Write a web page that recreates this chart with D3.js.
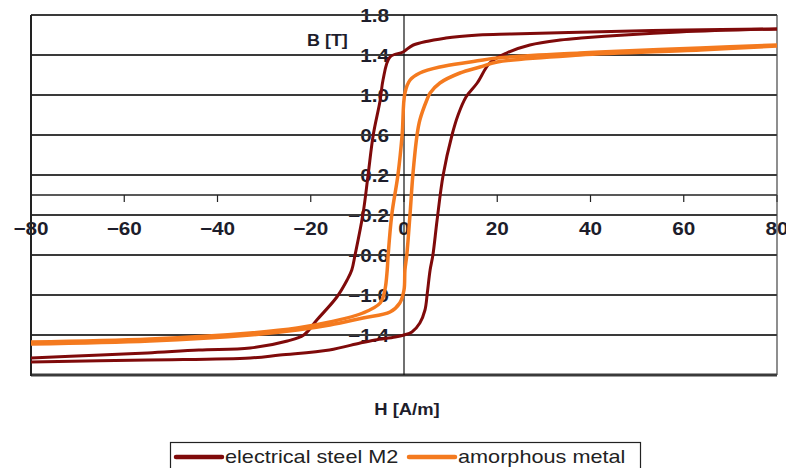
<!DOCTYPE html>
<html>
<head>
<meta charset="utf-8">
<script src="https://cdn.jsdelivr.net/npm/d3@7"></script>
<style>
    html, body { margin: 0; padding: 0; background: #fff; }
    svg { display: block; font-family: Arial, "Liberation Sans", sans-serif; }
</style>
</head>
<body>
<svg id="chart" width="786" height="468"></svg>
<script>
// --- data (H in A/m, B in T) ---
const steelDownH = [80, 60, 40, 23, 16, 9, 2, -0.2, -3, -4.5, -5.1, -6.6, -7.7, -8.8, -10.5, -11.2, -12.2, -14.4, -18.7, -21.5, -25, -33, -44, -55, -65, -80];
const steelDownB = [1.66, 1.65, 1.63, 1.61, 1.60, 1.57, 1.50, 1.43, 1.38, 1.15, 0.95, 0.60, 0.20, -0.19, -0.60, -0.75, -0.85, -1.02, -1.25, -1.40, -1.46, -1.53, -1.55, -1.58, -1.60, -1.63];
const steelUpH = [-80, -55, -33, -26.6, -16, -9.4, -6.2, -1.9, 0, 1.7, 3.4, 4.5, 5.0, 5.6, 6.2, 7.1, 8.4, 10.3, 11.6, 13.3, 15.7, 18.4, 22, 27, 33.5, 38, 59, 80];
const steelUpB = [-1.67, -1.65, -1.63, -1.60, -1.55, -1.48, -1.45, -1.42, -1.40, -1.37, -1.28, -1.15, -0.98, -0.75, -0.60, -0.25, 0.20, 0.60, 0.80, 0.98, 1.12, 1.32, 1.42, 1.50, 1.55, 1.57, 1.63, 1.66];

const amorphDownH = [80, 63.5, 42, 37.7, 20, 14.2, 7.7, 3.4, 1.3, 0.2, -0.4, -1.3, -2.6, -3.4, -3.6, -4.1, -5.1, -8.8, -15.9, -22.9, -33, -54.5, -80];
const amorphDownB = [1.50, 1.47, 1.43, 1.42, 1.37, 1.33, 1.28, 1.22, 1.15, 1.02, 0.60, 0.20, -0.19, -0.60, -0.75, -0.95, -1.08, -1.18, -1.27, -1.33, -1.38, -1.44, -1.47];
const amorphUpH = [-80, -54.5, -33, -22.9, -15.9, -8.8, -3, -0.9, 0, 0.2, 0.6, 1.3, 1.9, 2.8, 3.4, 4.9, 5.6, 7.7, 12, 16.3, 20, 37.7, 63.5, 80];
const amorphUpB = [-1.49, -1.46, -1.40, -1.35, -1.30, -1.23, -1.17, -1.08, -0.95, -0.75, -0.60, -0.19, 0.20, 0.60, 0.75, 0.95, 1.02, 1.12, 1.22, 1.28, 1.33, 1.40, 1.45, 1.49];

const seriesNames = ["electrical steel M2", "amorphous metal"];
const xTicks = [-80, -60, -40, -20, 0, 20, 40, 60, 80];
const yTicks = [1.8, 1.4, 1.0, 0.6, 0.2, -0.2, -0.6, -1.0, -1.4, -1.8];

document.addEventListener("DOMContentLoaded", () => {
    const svg = d3.select("#chart");
    const plot = { left: 31, right: 777, top: 15, bottom: 375 };
    const colors = ["#7f0a0a", "#f47a1f"];

    const x = d3.scaleLinear().domain([-80, 80]).range([plot.left, plot.right]);
    const y = d3.scaleLinear().domain([-1.8, 1.8]).range([plot.bottom, plot.top]);

    // stretch text a little, the source image is wider than tall
    function stretch(sel, k) {
        sel.each(function () {
            const w = this.getComputedTextLength();
            d3.select(this).attr("textLength", w * k).attr("lengthAdjust", "spacingAndGlyphs");
        });
    }

    const ink = "#1d1d2b";

    // --- tick labels (drawn first, lines go over them) ---
    svg.append("g")
        .selectAll("text")
        .data(xTicks)
        .join("text")
        .attr("x", (d) => x(d))
        .attr("y", y(0) + 40)
        .attr("text-anchor", "middle")
        .attr("font-size", 18)
        .attr("font-weight", "bold")
        .attr("fill", ink)
        .text((d) => d3.format("d")(d))
        .call(stretch, 1.15);

    svg.append("g")
        .selectAll("text")
        .data(yTicks.filter((d) => d > -1.8))
        .join("text")
        .attr("x", x(0) - 15)
        .attr("y", (d) => y(d) + 6.5)
        .attr("text-anchor", "end")
        .attr("font-size", 18)
        .attr("font-weight", "bold")
        .attr("fill", ink)
        .text((d) => d3.format(".1f")(d))
        .call(stretch, 1.15);

    svg.append("text")
        .attr("x", 307)
        .attr("y", 46)
        .attr("font-size", 16)
        .attr("font-weight", "bold")
        .attr("fill", ink)
        .text("B [T]")
        .call(stretch, 1.12);

    svg.append("text")
        .attr("x", 407)
        .attr("y", 415)
        .attr("text-anchor", "middle")
        .attr("font-size", 16)
        .attr("font-weight", "bold")
        .attr("fill", ink)
        .text("H [A/m]")
        .call(stretch, 1.15);

    // --- grid and frame ---
    svg.append("g")
        .selectAll("line")
        .data(yTicks)
        .join("line")
        .attr("x1", plot.left)
        .attr("x2", plot.right)
        .attr("y1", (d) => y(d))
        .attr("y2", (d) => y(d))
        .attr("stroke", "#3a3a3a")
        .attr("stroke-width", (d) => (d === -1.8 ? 3 : 2));

    svg.append("line")
        .attr("x1", plot.left).attr("x2", plot.right)
        .attr("y1", y(0)).attr("y2", y(0))
        .attr("stroke", "#222").attr("stroke-width", 1.5);

    svg.append("g")
        .selectAll("line")
        .data(xTicks)
        .join("line")
        .attr("x1", (d) => x(d))
        .attr("x2", (d) => x(d))
        .attr("y1", y(0))
        .attr("y2", y(0) + 7)
        .attr("stroke", "#222")
        .attr("stroke-width", 1.2);

    svg.append("line")
        .attr("x1", plot.left).attr("x2", plot.left)
        .attr("y1", plot.top).attr("y2", plot.bottom + 1)
        .attr("stroke", "#222").attr("stroke-width", 2);
    svg.append("line")
        .attr("x1", plot.right).attr("x2", plot.right)
        .attr("y1", plot.top).attr("y2", plot.bottom)
        .attr("stroke", "#444").attr("stroke-width", 1.2);
    svg.append("line")
        .attr("x1", x(0)).attr("x2", x(0))
        .attr("y1", plot.top).attr("y2", plot.bottom)
        .attr("stroke", "#111").attr("stroke-width", 1.2);

    // --- hysteresis loops, each branch its own path ---
    const branches = [
        { c: 0, H: steelDownH, B: steelDownB },
        { c: 0, H: steelUpH, B: steelUpB },
        { c: 1, H: amorphDownH, B: amorphDownB },
        { c: 1, H: amorphUpH, B: amorphUpB },
    ];

    const line = d3.line()
        .x((d) => x(d[0]))
        .y((d) => y(d[1]))
        .curve(d3.curveCatmullRom.alpha(0.5));

    branches.forEach((s) => {
        svg.append("path")
            .datum(s.H.map((h, j) => [h, s.B[j]]))
            .attr("d", line)
            .attr("fill", "none")
            .attr("stroke", colors[s.c])
            .attr("stroke-width", s.c === 0 ? 3 : 3.5)
            .attr("stroke-linejoin", "round");
    });

    // --- legend ---
    const legend = svg.append("g");
    legend.append("rect")
        .attr("x", 170.5).attr("y", 442.5)
        .attr("width", 470).attr("height", 40)
        .attr("fill", "#fff")
        .attr("stroke", "#222")
        .attr("stroke-width", 1.2);

    const itemX = [176, 409];
    seriesNames.forEach((name, i) => {
        legend.append("line")
            .attr("x1", itemX[i]).attr("x2", itemX[i] + 46)
            .attr("y1", 457).attr("y2", 457)
            .attr("stroke", colors[i])
            .attr("stroke-width", 4.5)
            .attr("stroke-linecap", "round");
        legend.append("text")
            .attr("x", itemX[i] + 49)
            .attr("y", 463)
            .attr("font-size", 19)
            .attr("fill", "#222")
            .text(name)
            .call(stretch, 1.14);
    });
});
</script>
</body>
</html>
